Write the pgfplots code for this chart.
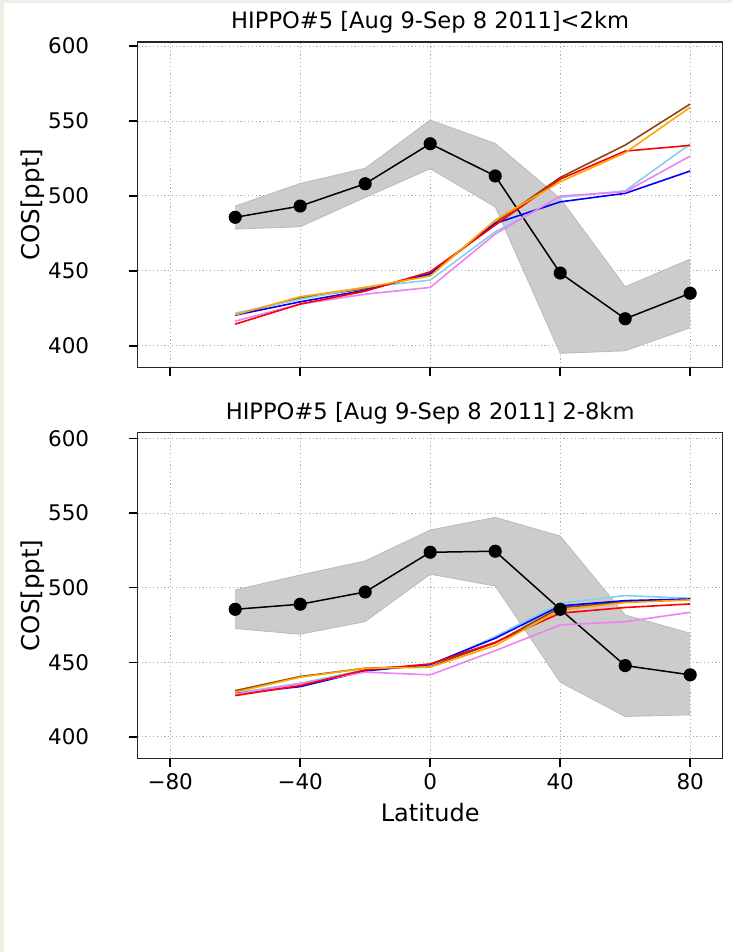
\documentclass[border=0pt]{standalone}
\usepackage{fontspec}
\setmainfont{DejaVu Sans}
\usepackage{pgfplots}
\pgfplotsset{compat=1.18}
\usepackage{pgfplotstable}
\usepgfplotslibrary{fillbetween}

\definecolor{bandfill}{RGB}{204,204,204}
\definecolor{bandedge}{RGB}{186,186,186}
\definecolor{skyc}{RGB}{135,206,235}
\definecolor{violetc}{RGB}{238,130,238}
\definecolor{brownc}{RGB}{139,69,19}
\definecolor{orangec}{RGB}{255,165,0}
\definecolor{gridc}{RGB}{175,175,175}
\definecolor{pagebg}{RGB}{240,238,228}

% HIPPO#5 below 2 km: observed mean, spread, and six model runs
\pgfplotstableread{
lat obs   hi    lo    mblue msky  mviolet mred  mbrown morange
-60 485.7 493.2 477.8 420.4 421.7 416.4   414.4 420.6  420.6
-40 493.2 508.3 479.4 429.3 431.0 427.8   427.8 432.0  432.7
-20 508.1 518.4 499.0 437.0 439.0 434.4   436.4 438.0  438.9
0   534.8 550.6 518.1 448.2 443.8 438.9   449.3 447.5  446.5
20  513.3 535.0 492.7 481.6 476.0 474.5   480.5 482.0  483.8
40  448.5 498.3 394.9 496.0 499.0 499.9   511.2 512.3  509.4
60  418.0 439.4 396.6 501.7 503.4 502.7   529.9 533.9  528.8
80  435.0 457.8 412.0 516.6 534.6 526.6   533.7 561.3  559.1
}\lowtab

% HIPPO#5 between 2 and 8 km
\pgfplotstableread{
lat obs   hi    lo    mblue msky  mviolet mred  mbrown morange
-60 485.5 498.5 472.6 429.0 429.4 428.7   427.7 431.0  430.0
-40 488.9 508.5 468.8 433.7 436.0 435.6   434.4 440.5  440.0
-20 497.1 517.9 477.3 444.2 444.9 443.4   444.9 446.0  446.0
0   523.7 538.6 509.0 448.5 447.8 441.6   448.9 447.5  446.7
20  524.4 547.1 501.1 466.1 467.2 457.8   463.4 463.0  461.2
40  485.5 534.6 436.7 487.8 489.6 475.0   482.9 486.6  485.1
60  447.8 481.7 413.7 491.3 494.7 477.2   486.7 490.5  490.0
80  441.6 469.5 414.8 492.4 492.9 483.5   489.1 492.0  491.8
}\midtab

\pgfplotsset{
  cospanel/.style={
    scale only axis,
    width=585bp,
    anchor=south west,
    xmin=-90, xmax=90,
    xtick={-80,-40,0,40,80},
    ytick={400,450,500,550,600},
    tick align=outside,
    xtick pos=lower, ytick pos=left,
    major tick length=9bp,
    every tick/.style={black, line width=1.6bp},
    axis line style={line width=1.1bp, black!85},
    grid=major,
    major grid style={gridc, line width=0.9bp, dash pattern=on 1.2bp off 2.6bp},
    /pgf/number format/assume math mode=true,
    tick label style={font=\fontsize{21.5bp}{24bp}\selectfont},
    yticklabel style={anchor=east, xshift=-36bp},
    xticklabel style={anchor=north, yshift=-3bp},
    title style={font=\fontsize{22.6bp}{26bp}\selectfont, at={(0.5,1)}, anchor=base, yshift=7.5bp},
    ylabel style={at={(0,0.5)}, anchor=center, yshift=104.5bp, font=\fontsize{24.5bp}{28bp}\selectfont},
    xlabel style={at={(0.5,0)}, anchor=center, yshift=-54bp, font=\fontsize{24bp}{28bp}\selectfont},
    ylabel={COS[ppt]},
  },
  cosband/.style={draw=bandedge, line width=0.8bp, forget plot},
  cosobs/.style={black, line width=1.5bp, mark=*, mark size=5.8bp, mark options={fill=black}},
  cosmodel/.style={line width=1.6bp, no marks},
}

\begin{document}
\begin{tikzpicture}
\fill[pagebg] (0,0) rectangle (3.5bp,952bp);
\fill[pagebg] (0,948.5bp) rectangle (732bp,952bp);

\begin{axis}[cospanel,
  at={(137.7bp,584.7bp)}, height=325.3bp,
  ymin=385.6, ymax=602.7,
  xticklabels={},
  title={HIPPO\#5 [Aug 9-Sep 8 2011]<2km}]
  \addplot[cosband, name path=hiA] table[x=lat, y=hi] {\lowtab};
  \addplot[cosband, name path=loA] table[x=lat, y=lo] {\lowtab};
  \addplot[bandfill, forget plot] fill between[of=hiA and loA];
  \addplot[cosobs] table[x=lat, y=obs] {\lowtab};
  \addplot[cosmodel, brownc] table[x=lat, y=mbrown] {\lowtab};
  \addplot[cosmodel, skyc] table[x=lat, y=msky] {\lowtab};
  \addplot[cosmodel, blue] table[x=lat, y=mblue] {\lowtab};
  \addplot[cosmodel, violetc] table[x=lat, y=mviolet] {\lowtab};
  \addplot[cosmodel, red] table[x=lat, y=mred] {\lowtab};
  \addplot[cosmodel, orangec] table[x=lat, y=morange] {\lowtab};
\end{axis}

\begin{axis}[cospanel,
  at={(137.7bp,193.7bp)}, height=325.6bp,
  ymin=385.7, ymax=603.8,
  xticklabels={−80,−40,0,40,80},
  xlabel={Latitude},
  title={HIPPO\#5 [Aug 9-Sep 8 2011] 2-8km}]
  \addplot[cosband, name path=hiB] table[x=lat, y=hi] {\midtab};
  \addplot[cosband, name path=loB] table[x=lat, y=lo] {\midtab};
  \addplot[bandfill, forget plot] fill between[of=hiB and loB];
  \addplot[cosobs] table[x=lat, y=obs] {\midtab};
  \addplot[cosmodel, brownc] table[x=lat, y=mbrown] {\midtab};
  \addplot[cosmodel, skyc] table[x=lat, y=msky] {\midtab};
  \addplot[cosmodel, blue] table[x=lat, y=mblue] {\midtab};
  \addplot[cosmodel, violetc] table[x=lat, y=mviolet] {\midtab};
  \addplot[cosmodel, red] table[x=lat, y=mred] {\midtab};
  \addplot[cosmodel, orangec] table[x=lat, y=morange] {\midtab};
\end{axis}
\pgfresetboundingbox
\path[use as bounding box] (0,0) rectangle (732bp,952bp);
\end{tikzpicture}
\end{document}
